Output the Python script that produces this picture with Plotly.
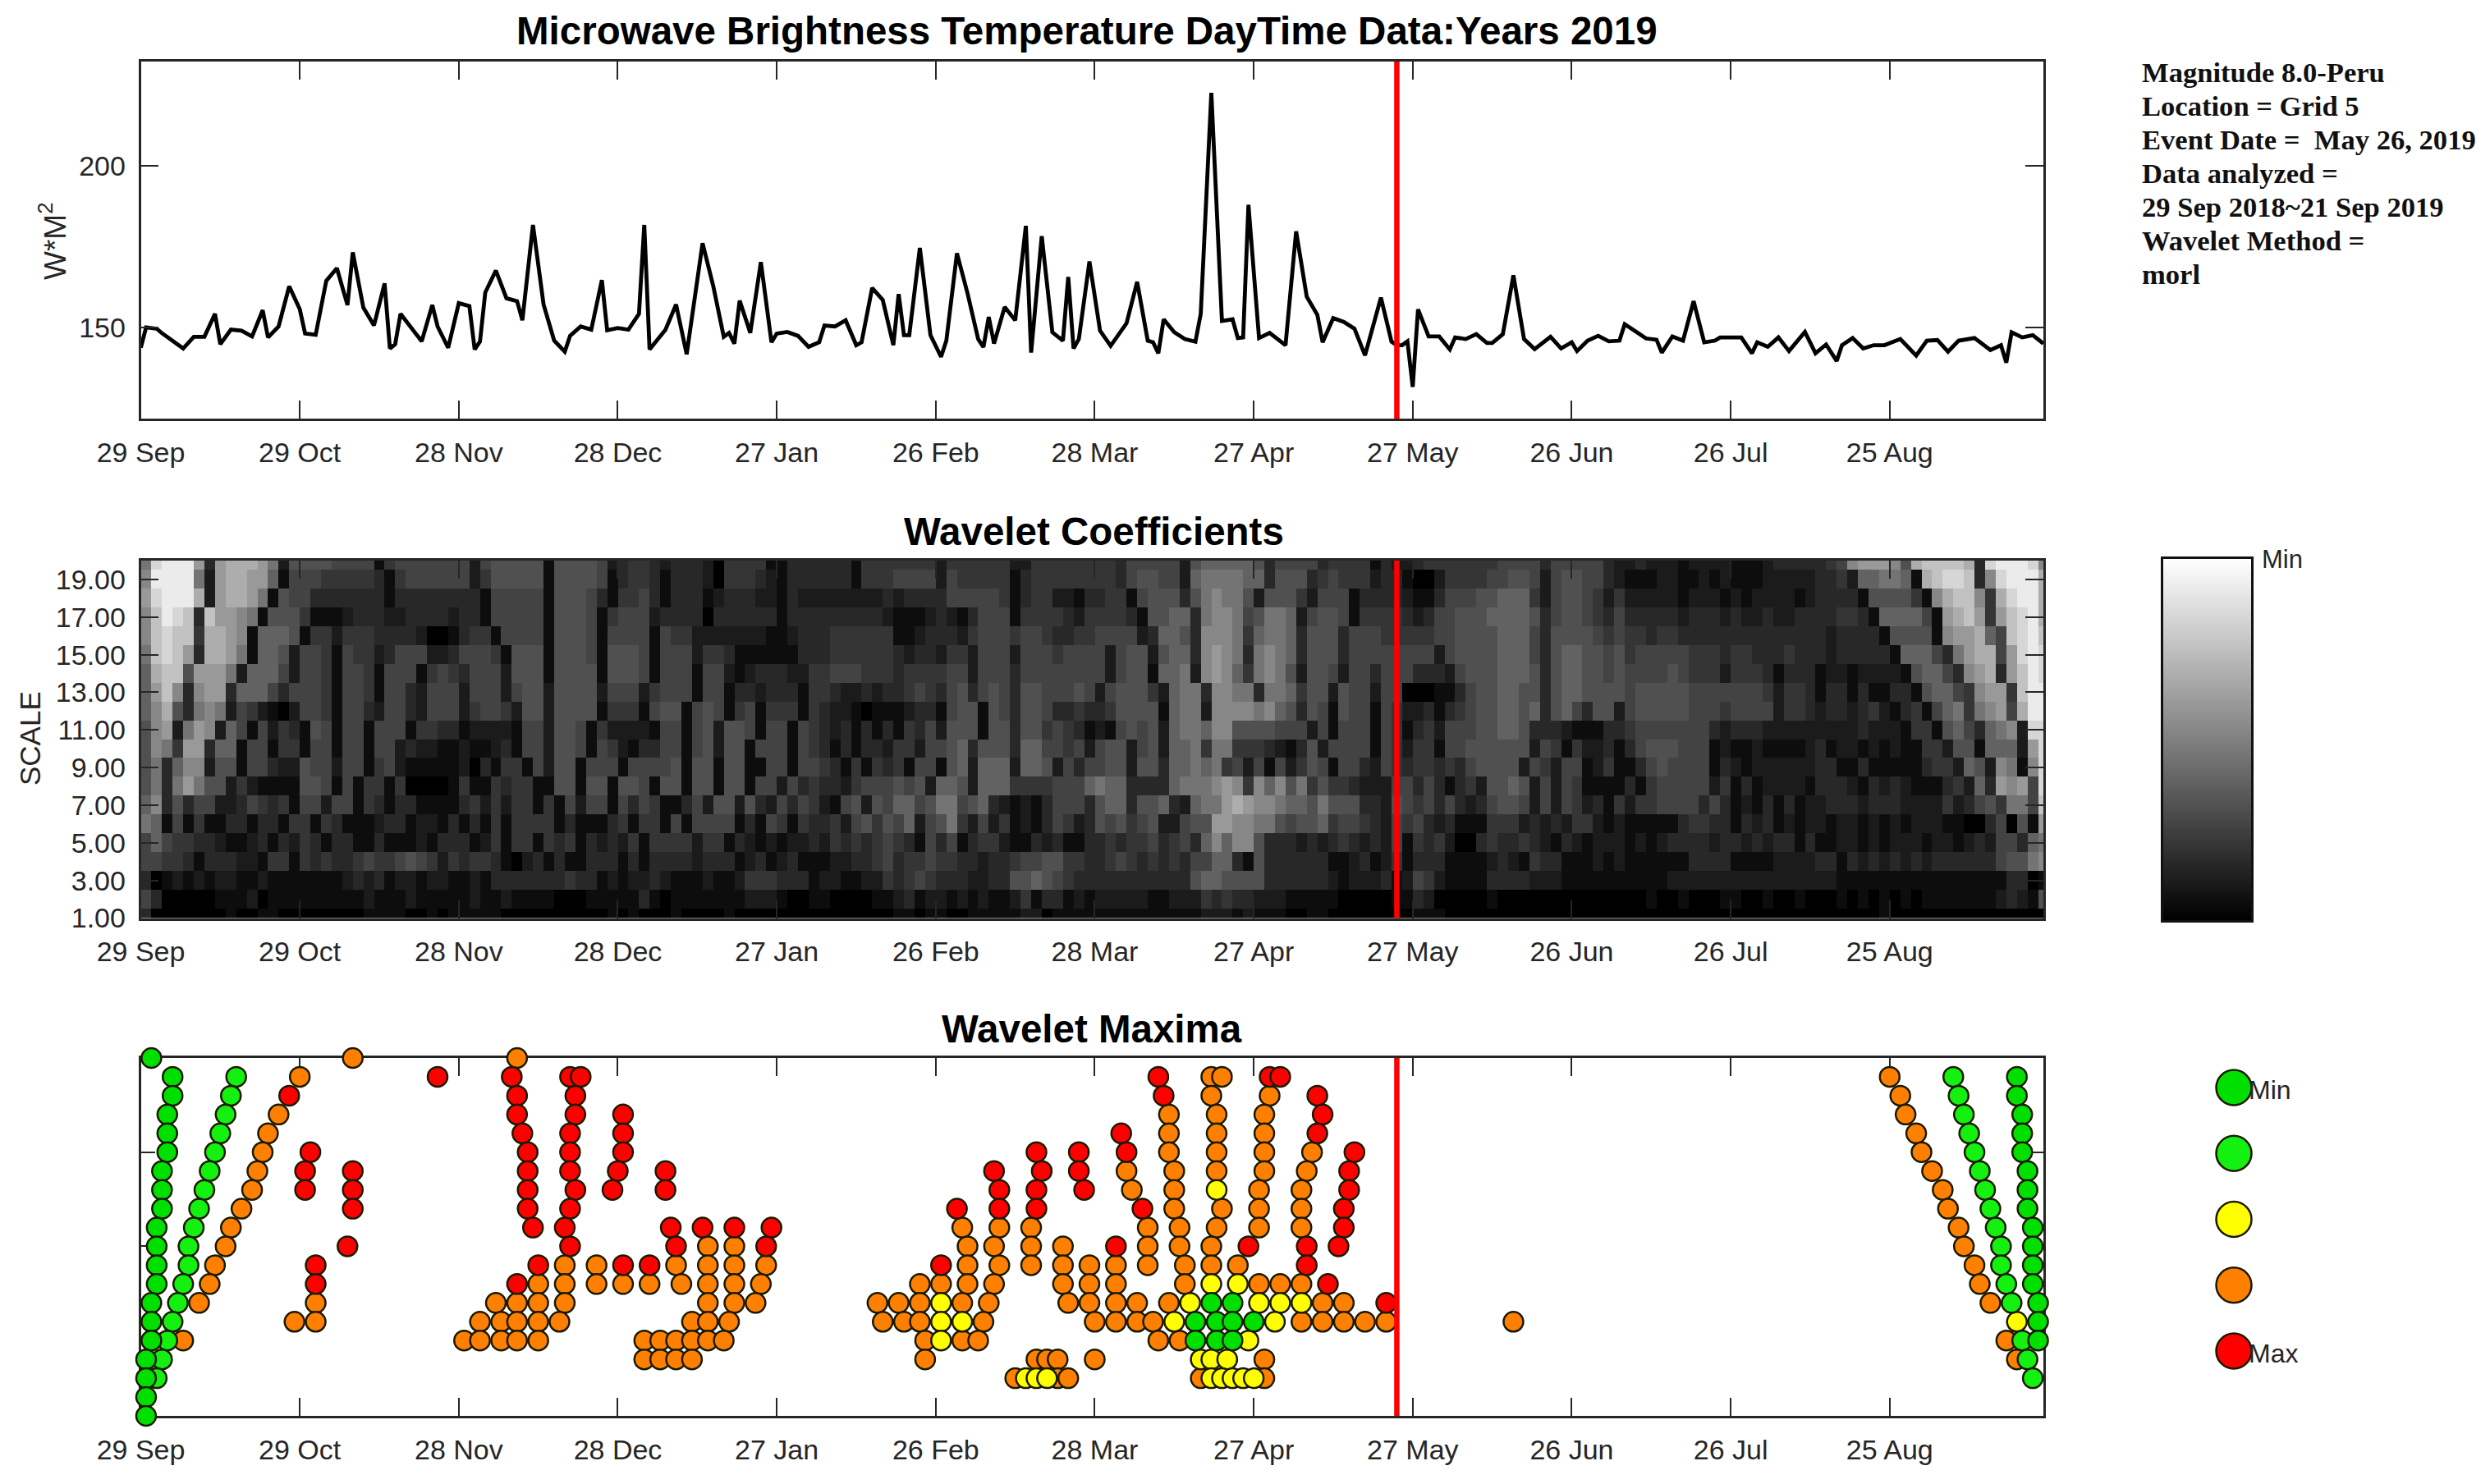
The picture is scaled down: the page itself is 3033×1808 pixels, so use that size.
import plotly.graph_objects as go
from plotly.subplots import make_subplots

# x axis is days since 29 Sep 2018
tick_days = [0, 30, 60, 90, 120, 150, 180, 210, 240, 270, 300, 330]
tick_labels = ["29 Sep", "29 Oct", "28 Nov", "28 Dec", "27 Jan", "26 Feb",
               "28 Mar", "27 Apr", "27 May", "26 Jun", "26 Jul", "25 Aug"]
event_day = 237

# --- top panel, brightness temperature (turning points) ---
line_days = [0, 1, 3, 4, 8, 10, 12, 14, 15, 17, 19, 21, 23, 24, 26, 28, 30, 31, 33, 35, 37, 39, 40, 42, 44, 46, 47, 48, 49,
             53, 55, 56, 58, 60, 62, 63, 64, 65, 67, 69, 71, 72, 74, 76, 78, 80, 81, 83, 85, 87, 88, 90, 92, 94, 95, 96,
             99, 101, 103, 106, 108, 110, 111, 112, 113, 115, 117, 119, 120, 122, 124, 126, 128, 129, 131, 133, 135, 136,
             138, 140, 142, 143, 144, 145, 147, 149, 151, 152, 154, 156, 158, 159, 160, 161, 163, 165, 167, 168, 170, 172,
             174, 175, 176, 177, 179, 181, 183, 186, 188, 190, 191, 192, 193, 195, 197, 199, 200, 202, 204, 206, 207, 208,
             209, 211, 213, 216, 218, 220, 222, 223, 225, 227, 229, 231, 234, 236, 237, 238, 239, 240, 241, 243, 245, 247,
             248, 250, 252, 254, 255, 257, 259, 261, 263, 266, 268, 270, 271, 273, 275, 277, 279, 280, 282, 284, 286, 287,
             289, 291, 293, 295, 297, 298, 302, 304, 305, 307, 309, 311, 314, 316, 318, 320, 321, 323, 325, 327, 329, 332,
             335, 337, 339, 341, 343, 346, 349, 351, 352, 353, 355, 357, 359]
line_vals = [143.7, 150.0, 149.6, 148.2, 143.5, 147.1, 147.1, 154.2, 144.8, 149.3, 149.0, 147.2, 155.3, 146.9, 150.3,
             162.7, 155.6, 148.1, 147.7, 164.4, 168.3, 156.9, 173.2, 156.1, 150.6, 163.6, 143.5, 144.8, 154.2,
             145.7, 156.9, 150.3, 143.7, 157.5, 156.6, 143.2, 145.6, 160.8, 167.6, 159.0, 158.1, 152.2, 181.7, 157.1,
             145.9, 142.5, 147.4, 150.3, 149.3, 164.6, 149.1, 149.8, 149.3, 154.2, 181.7, 143.2,
             149.3, 157.1, 141.7, 176.0, 162.9, 147.1, 148.3, 145.0, 158.3, 148.3, 170.2, 145.4, 148.1, 148.6, 147.4,
             144.0, 145.4, 150.6, 150.3, 152.2, 144.5, 145.4,
             162.2, 158.5, 144.5, 160.3, 147.6, 147.6, 174.6, 147.6, 140.9, 145.9, 172.9, 160.5, 146.4, 143.9, 153.2,
             145.0, 156.3, 152.2, 181.4, 142.2, 178.2, 148.5,
             145.9, 165.6, 143.5, 146.4, 170.4, 149.0, 144.3, 151.3, 164.1, 145.9, 145.4, 142.0, 152.5, 148.5, 146.4,
             145.6, 154.2, 222.5, 152.0, 152.5, 146.7, 146.9,
             187.9, 146.7, 148.3, 144.5, 179.7, 159.5, 153.9, 145.4, 152.9, 151.7, 149.6, 141.4, 159.2, 145.6, 144.5,
             144.5, 145.7, 131.6, 155.6, 147.2, 147.2, 143.2,
             146.9, 146.4, 147.9, 145.2, 145.2, 147.9, 166.1, 146.4, 143.3, 147.1, 143.5, 145.4, 142.7, 145.9, 147.4,
             145.7, 145.9, 151.0, 148.8, 146.6, 146.2, 142.2,
             147.2, 145.9, 158.1, 145.4, 145.9, 146.9, 146.9, 142.0, 145.4, 144.0, 146.9, 142.7, 148.6, 142.0, 144.7,
             139.6, 144.5, 146.7, 143.5, 144.5, 144.5, 146.4,
             141.3, 145.9, 146.1, 142.5, 145.9, 146.7, 143.0, 144.5, 139.1, 148.5, 146.9, 147.6, 145.0]

# --- middle panel, wavelet coefficients as gray levels 0-f, one char = 2 days, one block = 20 days ---
coef_s20 = "8deeea3abb ba82666655 5514555555 5256666616 6665234432 3332044441 1333333144 4444424444 4422444444 4435555526 7777763555 5344441322 3444444455 5535555532 2322212222 1112333334 59aaa96bcc ccb3deeed9"
coef_s19 = "9eeee82abb aa71555444 4431455555 5246666616 6665134431 3332044432 1333333144 4555525444 4413444444 4435665527 8888773666 3454442331 0024444556 6525665532 1112211212 1112222233 42778871bc ddc39deeeb"
coef_s18 = "adeeeb2abb a816553333 3331333333 3315555516 6653144531 3331233322 1322222222 3233335555 5413442213 3441566636 8988626664 2555133332 1135556677 7425665424 2222212221 2122221233 3316666419 bcc94bdeeb"
coef_s17 = "9cedc3caa9 8166641112 3332233332 3315555516 6651455523 3330333333 1333333333 2111232135 5514444324 4443166773 8998568872 5665144443 2355666777 7635665435 3333323332 3223223333 4431777751 abca4acdeb"
coef_s16 = "9cdcc4bba9 1777614424 4433332001 3441555516 6651555515 4422222221 1233344444 4112333245 5545543344 5555237763 9998478873 6663555444 4455666677 7536666545 4434433333 3333333332 3333166661 9aab75cdec"
coef_s15 = "8cdca3bba8 1776255415 4423555223 5554166616 6651666515 5524431111 1133344444 4323324425 5525554555 5256626773 9a98389873 6663555555 5525666677 7536776656 4555554443 4433343332 3333317775 38abb5aded"
coef_s14 = "7bcc6aaa82 7775255415 5415551454 3555266616 6661666515 5515521233 3224455544 4344445525 5535555555 5256617782 9a97489862 6652553555 3332566677 7636776656 5555654442 4443133312 2122221677 539ab3aced"
coef_s13 = "7ac939aa37 7753555415 5415532555 2555256626 6662555245 5515513323 3314432232 3345435635 6536655565 2566642788 3998838874 6626552550 0011356677 6636776666 5666665555 5554244313 3131133167 7549aa4cee"
coef_s12 = "79b6389825 4210255415 5325532555 2455426626 6661444156 6156514514 4414322101 1123315661 6536653343 3466661788 2999989763 6516551542 2313456677 6736753662 5666665554 5555244323 3234213415 78489a5bee"
coef_s11 = "69a28a9275 1524316515 5155514433 1222215526 6514222215 5156266515 5154323131 3143526661 6636645431 2156562788 7996666555 2515551541 3425556677 6333211133 4555555532 3332222222 2232221441 67537892dd"
coef_s10 = "6984aa3771 5514415515 5155232211 2112315526 6515421335 5156266155 5154313133 2442556736 6637755452 5662562778 4884443213 6255551542 4415566666 6254142231 3566655512 1121111231 2212121144 26617772ad"
coef_s09 = "6837992661 5532265525 5145211111 2031441526 6155515555 6166166115 5155431414 3415516727 7727762535 5662663778 7845251524 6515532543 4434356666 2542551241 1356555513 2122222233 1131111134 427629819d"
coef_s08 = "6838a86624 2111166515 1441400001 4114344116 6166166516 6166166155 2534332455 5656277627 7744445557 8773333788 89a9497968 4644322255 3531342667 6252541111 3145555524 1312222133 3213232111 34273a9a5d"
coef_s07 = "7936355223 5434155255 1431331111 3424244141 5255153541 1352662632 5354215626 5775688567 3212135553 6773667327 88aba99877 6866633265 4535323566 5252542314 2445555353 1213131223 3323332222 423564885c"
coef_s06 = "8715141133 1331441431 1123312213 1314144441 3111341441 5155551315 4143342564 6572568425 2412135423 6564562256 6aa9988656 6745543254 5323111444 2323244212 1111134433 1323121221 2212121222 110035061a"
coef_s05 = "5754433211 2313243133 1131112133 3124144143 4132324144 4424413212 1223243434 5431535134 4211323113 3434453453 7979963332 3234323251 4342003433 4321321222 1212333323 3232331311 2212122212 2123255378"
coef_s04 = "5544313332 2144143433 4544565424 3443102313 1133313133 3323331231 2311122334 5344544332 3345566443 3454343435 5773163333 3311231241 3331111232 1433111212 1111113333 1111222233 1323232323 3333356689"
coef_s03 = "3012121221 1211111112 3231221221 1213333333 4331212232 1112112444 3331221122 4345433322 3366765433 3333333336 7766663333 3321222312 5421111333 3222111111 1111222222 2222222222 1111111111 1111113301"
coef_s02 = "5300000111 2011111111 1211121111 1211211110 0011111310 1111111222 1001100001 1231221212 1124133121 2222211222 4343322211 1110000011 3200000100 0000000000 0010010001 1001001000 1010101011 1111123216"
coef_s01 = "3000000010 0110000000 0111100101 1111000000 0000101000 1000010000 0000000000 0110110011 1112201111 1111111111 2221211100 1100000000 1110000000 0000000000 0000000000 0000000000 0000100000 0000000000"

coef_rows = [coef_s01, coef_s02, coef_s03, coef_s04, coef_s05, coef_s06, coef_s07, coef_s08, coef_s09, coef_s10,
             coef_s11, coef_s12, coef_s13, coef_s14, coef_s15, coef_s16, coef_s17, coef_s18, coef_s19, coef_s20]
coef_scales = list(range(1, 21))
coef_days = list(range(1, 360, 2))
scale_ticks = [1, 3, 5, 7, 9, 11, 13, 15, 17, 19]
scale_labels = ["1.00", "3.00", "5.00", "7.00", "9.00", "11.00", "13.00", "15.00", "17.00", "19.00"]

# gray wedge next to the coefficients
wedge_levels = [0, 15]

# --- bottom panel, maxima: scale -> days ---
red_rows = {19: [56, 70, 81, 83, 192, 213, 215], 18: [28, 71, 82, 193, 222], 17: [71, 82, 91, 223],
            16: [72, 81, 91, 185, 222], 15: [32, 73, 81, 91, 169, 177, 186, 229],
            14: [31, 40, 73, 81, 90, 99, 161, 170, 177, 228], 13: [31, 40, 73, 82, 89, 99, 162, 169, 178, 228],
            12: [40, 73, 81, 154, 162, 169, 189, 227], 11: [74, 80, 100, 106, 112, 119, 227],
            10: [39, 81, 101, 118, 184, 209, 220, 226], 9: [33, 75, 91, 96, 151, 220], 8: [33, 71, 224], 7: [235]}
orange_rows = {20: [40, 71], 19: [30, 202, 204, 330], 18: [202, 213, 332], 17: [26, 194, 203, 212, 333],
               16: [24, 194, 203, 212, 335], 15: [23, 194, 203, 212, 221, 336], 14: [22, 186, 195, 203, 212, 220, 338],
               13: [21, 187, 195, 211, 219, 340], 12: [19, 195, 204, 211, 219, 341],
               11: [17, 155, 162, 168, 190, 196, 203, 211, 219, 343],
               10: [16, 107, 112, 156, 161, 168, 174, 190, 196, 202, 344],
               9: [14, 80, 86, 101, 107, 112, 118, 156, 162, 168, 174, 179, 184, 190, 197, 202, 207, 346],
               8: [13, 75, 80, 86, 91, 96, 102, 107, 112, 117, 147, 151, 156, 161, 174, 179, 184, 197, 211, 215, 219, 347],
               7: [11, 33, 67, 71, 75, 80, 107, 112, 116, 139, 143, 147, 155, 160, 175, 179, 184, 188, 194, 223, 227, 349],
               6: [29, 33, 64, 68, 71, 75, 79, 104, 107, 111, 140, 144, 147, 159, 180, 184, 188, 191, 219, 223, 227, 231, 235, 259],
               5: [8, 61, 64, 68, 71, 75, 95, 98, 101, 104, 107, 110, 148, 155, 158, 192, 196, 352],
               4: [95, 98, 101, 104, 148, 169, 171, 173, 180, 212, 354], 3: [165, 173, 175, 200, 212]}
yellow_rows = {13: [203], 8: [202, 207], 7: [151, 198, 211, 215, 219], 6: [151, 155, 195, 214, 354], 5: [151, 209],
               4: [200, 202, 205], 3: [167, 169, 171, 202, 204, 206, 208, 210]}
green_rows = {20: [2], 19: [6, 354], 18: [6, 354], 17: [5, 355], 16: [5, 355], 15: [5, 355], 14: [4, 356], 13: [4, 356],
              12: [4, 356], 11: [3, 357], 10: [3, 357], 9: [3, 357], 8: [3, 357], 7: [2, 202, 206, 358],
              6: [2, 199, 203, 206, 210, 358], 5: [2, 199, 203, 206, 358], 4: [1], 3: [1], 2: [1], 1: [1]}
lime_rows = {19: [18, 342], 18: [17, 343], 17: [16, 344], 16: [15, 345], 15: [14, 346], 14: [13, 347], 13: [12, 348],
             12: [11, 349], 11: [10, 350], 10: [9, 351], 9: [9, 351], 8: [8, 352], 7: [7, 353], 6: [6], 5: [5, 355],
             4: [4, 356], 3: [3, 357]}

legend_levels = [5, 4, 3, 2, 1]

info_lines = ["Magnitude 8.0-Peru", "Location = Grid 5", "Event Date =  May 26, 2019", "Data analyzed =",
              "29 Sep 2018~21 Sep 2019", "Wavelet Method =", "morl"]

W, H = 3033, 1808
PAGE_PAD = 8  # default body margin of the written page
SANS = "Liberation Sans"
INK = "#262626"
GREEN = "#00e000"
LIME = "#14f010"
YELLOW = "#ffff00"
ORANGE = "#ff8000"
RED = "#ff0000"


def flatten(rows):
    xs, ys = [], []
    for scale, days in rows.items():
        xs += days
        ys += [scale] * len(days)
    return xs, ys


def fx(px):
    return (px - PAGE_PAD) / W


def fy(px):
    return 1 - (px - PAGE_PAD) / H


def note(text, x_px, y_px, size, color=INK, family=SANS, xanchor="center", angle=0):
    fig.add_annotation(text=text, xref="paper", yref="paper", x=fx(x_px), y=fy(y_px), xanchor=xanchor,
                       yanchor="middle", textangle=angle, showarrow=False,
                       font=dict(family=family, size=size, color=color))


fig = make_subplots(rows=3, cols=1)

# Row 1: temperature
fig.add_trace(go.Scatter(x=line_days, y=line_vals, mode="lines",
                         line=dict(color="black", width=4.8)), row=1, col=1)

# Row 2: coefficients
coef_z = [[int(c, 16) for c in row.replace(" ", "")] for row in coef_rows]
assert all(len(r) == 180 for r in coef_z)
gray = [[0, "#000000"], [1, "#ffffff"]]
# the picture's mid grays sit darker than a straight ramp
coef_gray = [[0, "#000000"], [0.4, "#505050"], [0.667, "#999999"], [1, "#ffffff"]]
fig.add_trace(go.Heatmap(x=coef_days, y=coef_scales, z=coef_z, zmin=0, zmax=15, colorscale=coef_gray, showscale=False),
              row=2, col=1)

# Row 3: maxima
for rows, col in [(orange_rows, ORANGE), (red_rows, RED), (yellow_rows, YELLOW), (lime_rows, LIME), (green_rows, GREEN)]:
    xs, ys = flatten(rows)
    fig.add_trace(go.Scatter(x=xs, y=ys, mode="markers", cliponaxis=False,
                             marker=dict(size=24, color=col, line=dict(color="#1a1a00", width=2.5))),
                  row=3, col=1)

# fake legend and gray wedge on their own axes
fig.add_trace(go.Scatter(x=[0] * 5, y=legend_levels, xaxis="x4", yaxis="y4", mode="markers", cliponaxis=False,
                         marker=dict(size=43, color=[GREEN, LIME, YELLOW, ORANGE, RED],
                                     line=dict(color="#1a1a00", width=2.5))))
fig.add_trace(go.Heatmap(x=[0, 1], y=wedge_levels, z=[[v, v] for v in wedge_levels], xaxis="x5", yaxis="y5",
                         zmin=0, zmax=15, colorscale=gray, zsmooth="best", showscale=False))

x_common = dict(range=[0, 359], tickmode="array", tickvals=tick_days, ticktext=tick_labels, ticks="inside",
                ticklen=22, tickwidth=2, tickcolor=INK, linecolor=INK, linewidth=2.5, mirror="ticks",
                showgrid=False, zeroline=False, ticklabelstandoff=9, tickangle=0, automargin=False,
                tickfont=dict(family=SANS, size=34, color=INK))
y_common = dict(ticks="inside", ticklen=22, tickwidth=2, tickcolor=INK, linecolor=INK, linewidth=2.5,
                mirror="ticks", showgrid=False, zeroline=False, ticklabelstandoff=9, automargin=False,
                tickfont=dict(family=SANS, size=34, color=INK))

x_dom = [fx(171.5), fx(2489)]
fig.update_layout(
    width=W, height=H, margin=dict(l=0, r=0, t=0, b=0), autosize=False,
    paper_bgcolor="white", plot_bgcolor="white", showlegend=False,
    xaxis={**x_common, "domain": x_dom},
    xaxis2={**x_common, "domain": x_dom},
    xaxis3={**x_common, "domain": x_dom, "layer": "below traces"},
    yaxis={**y_common, "domain": [fy(510), fy(75)], "range": [121.8, 232.2], "tickvals": [150, 200]},
    yaxis2={**y_common, "domain": [fy(1118.5), fy(683)], "range": [1, 20], "tickmode": "array",
            "tickvals": scale_ticks, "ticktext": scale_labels},
    yaxis3={**y_common, "domain": [fy(1725), fy(1289)], "range": [1, 20], "tickvals": [5, 10, 15, 20],
            "showticklabels": False, "ticklen": 18, "layer": "below traces"},
    xaxis4=dict(domain=[fx(2721), fx(2900)], range=[0, 1], visible=False, anchor="y4", automargin=False),
    yaxis4=dict(domain=[fy(1646), fy(1325)], range=[1, 5], visible=False, anchor="x4", automargin=False),
    xaxis5=dict(domain=[fx(2635), fx(2742)], range=[0, 1], anchor="y5", showticklabels=False, ticks="",
                showgrid=False, zeroline=False, linecolor="#111111", linewidth=2.5, mirror=True, automargin=False),
    yaxis5=dict(domain=[fy(1121), fy(681)], range=[0, 15], anchor="x5", showticklabels=False, ticks="",
                showgrid=False, zeroline=False, linecolor="#111111", linewidth=2.5, mirror=True, automargin=False),
)

# event line
for r in (1, 2, 3):
    fig.add_vline(x=event_day, line_color=RED, line_width=6.5, row=r, col=1)

# titles and axis names
note("<b>Microwave Brightness Temperature DayTime Data:Years 2019</b>", 1324, 38, 47.5, color="black")
note("<b>Wavelet Coefficients</b>", 1332, 647, 47.5, color="black")
note("<b>Wavelet Maxima</b>", 1330, 1253, 47.5, color="black")
note("W*M<sup>2</sup>", 64, 294, 37, angle=-90)
note("SCALE", 36, 900, 35, angle=-90)
note("Min", 2753, 682, 31, xanchor="left")
note("Min", 2737, 1328, 32, xanchor="left")
note("Max", 2737, 1649, 32, xanchor="left")

# event info block
for i, line in enumerate(info_lines):
    note("<b>" + line + "</b>", 2607, 88 + 41 * i, 34.6, color="#111111", family="Liberation Serif", xanchor="left")

fig.write_html("out.html")
